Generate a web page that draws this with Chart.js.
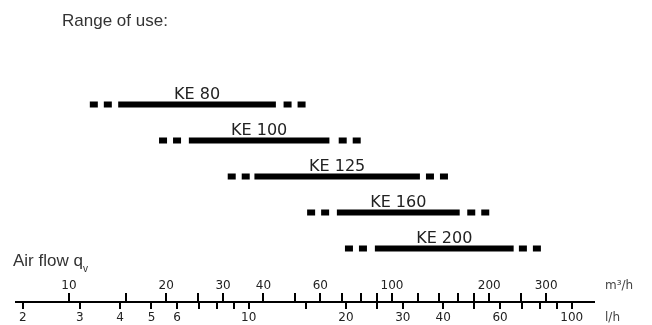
<!DOCTYPE html>
<html>
<head>
<meta charset="utf-8">
<title>Range of use</title>
<script src="https://cdn.jsdelivr.net/npm/chart.js@4/dist/chart.umd.min.js"></script>
<style>
  html, body { margin: 0; padding: 0; background: #fff; }
  #wrap { width: 652px; height: 325px; }
</style>
</head>
<body>
<div id="wrap"><canvas id="rangeChart" width="652" height="325"></canvas></div>
<script>
// Fan models (one row each, top to bottom)
const models = ['KE 80', 'KE 100', 'KE 125', 'KE 160', 'KE 200'];

// Air flow limits in m³/h: dashed = extended range, solid = normal range
const dashedMin = [11.6, 19, 31, 54.6, 71.5];
const solidMin = [14.2, 23.5, 37.5, 67.5, 88.5];
const solidMax = [43.7, 64, 122, 162, 238];
const dashedMax = [54, 80, 149, 200, 289];

// Upper scale (m³/h)
const m3hTicks = [10, 15, 20, 25, 30, 40, 50, 60, 70, 80, 90, 100, 120, 140, 160, 180, 200, 250, 300];
const m3hLabels = [10, 20, 30, 40, 60, 100, 200, 300];

// Lower scale (second unit, 1 unit = 3.6 m³/h)
const lhTicks = [2, 3, 4, 5, 6, 7, 8, 9, 10, 15, 20, 25, 30, 40, 50, 60, 70, 80, 90, 100];
const lhLabels = [2, 3, 4, 5, 6, 10, 20, 30, 40, 60, 100];
const lhToM3h = 3.6;

// Visible span of the log axis (m³/h)
const axisMin = 6.805;
const axisMax = 425;

// Build the line datasets: dashed left part, solid middle, dashed right part
// (dashed parts run from the outer end inwards: two dashes, then nothing)
const datasets = [];
models.forEach(function(name, i) {
    datasets.push({
        label: name + ' low',
        data: [{ x: dashedMin[i], y: i }, { x: solidMin[i], y: i }],
        borderDash: [8, 6, 8, 60]
    });
    datasets.push({
        label: name,
        data: [{ x: solidMin[i], y: i }, { x: solidMax[i], y: i }]
    });
    datasets.push({
        label: name + ' high',
        data: [{ x: dashedMax[i], y: i }, { x: solidMax[i], y: i }],
        borderDash: [8, 6, 8, 60]
    });
});
datasets.forEach(function(ds) {
    ds.showLine = true;
    ds.borderColor = '#000';
    ds.borderWidth = 6;
    ds.borderCapStyle = 'butt';
    ds.pointRadius = 0;
    ds.fill = false;
});

// Labels, titles and the double air flow axis
const rangeDecor = {
    id: 'rangeDecor',
    afterDraw(chart) {
        const ctx = chart.ctx;
        const xs = chart.scales.x;
        const ys = chart.scales.y;
        const area = chart.chartArea;
        const axisY = area.bottom;
        const digitFont = '12px "DejaVu Sans", sans-serif';

        ctx.save();

        // Titles
        ctx.fillStyle = '#333';
        ctx.textBaseline = 'alphabetic';
        ctx.textAlign = 'left';
        ctx.font = '17px "Liberation Sans", Arial, sans-serif';
        ctx.fillText('Range of use:', 62, 26);
        ctx.fillText('Air flow q', 13, 266);
        const qWidth = ctx.measureText('Air flow q').width;
        ctx.font = '10px "Liberation Sans", Arial, sans-serif';
        ctx.fillText('v', 13 + qWidth, 272);

        // Model names centred over the solid part
        ctx.fillStyle = '#222';
        ctx.textAlign = 'center';
        ctx.font = '16px "DejaVu Sans", sans-serif';
        models.forEach(function(name, i) {
            const cx = (xs.getPixelForValue(solidMin[i]) + xs.getPixelForValue(solidMax[i])) / 2;
            ctx.fillText(name, cx, ys.getPixelForValue(i) - 6);
        });

        // Axis line
        ctx.strokeStyle = '#000';
        ctx.lineWidth = 2;
        ctx.beginPath();
        ctx.moveTo(area.left, axisY);
        ctx.lineTo(area.right, axisY);
        ctx.stroke();

        // Upper ticks (m³/h)
        ctx.beginPath();
        m3hTicks.forEach(function(v) {
            const px = Math.round(xs.getPixelForValue(v));
            ctx.moveTo(px, axisY - 9);
            ctx.lineTo(px, axisY);
        });
        // Lower ticks
        lhTicks.forEach(function(v) {
            const px = Math.round(xs.getPixelForValue(v * lhToM3h));
            ctx.moveTo(px, axisY);
            ctx.lineTo(px, axisY + 7);
        });
        ctx.stroke();

        // Tick labels
        ctx.font = digitFont;
        ctx.fillStyle = '#222';
        ctx.textAlign = 'center';
        m3hLabels.forEach(function(v) {
            ctx.fillText(String(v), xs.getPixelForValue(v), axisY - 13);
        });
        lhLabels.forEach(function(v) {
            ctx.fillText(String(v), xs.getPixelForValue(v * lhToM3h), axisY + 19);
        });

        // Units
        ctx.textAlign = 'left';
        ctx.fillStyle = '#444';
        ctx.fillText('m³/h', 605, axisY - 13);
        ctx.fillText('l/h', 605, axisY + 19);

        ctx.restore();
    }
};

document.addEventListener('DOMContentLoaded', function() {
    const ctx = document.getElementById('rangeChart').getContext('2d');
    window.rangeChart = new Chart(ctx, {
        type: 'scatter',
        data: { datasets: datasets },
        options: {
            responsive: false,
            animation: false,
            devicePixelRatio: 1,
            layout: {
                padding: { left: 15, right: 57, top: 0, bottom: 23 }
            },
            plugins: {
                legend: { display: false },
                tooltip: { enabled: false },
                title: { display: false }
            },
            scales: {
                x: {
                    type: 'logarithmic',
                    min: axisMin,
                    max: axisMax,
                    display: false
                },
                y: {
                    type: 'linear',
                    min: -2.903,
                    max: 5.486,
                    reverse: true,
                    display: false
                }
            }
        },
        plugins: [rangeDecor]
    });
});
</script>
</body>
</html>
